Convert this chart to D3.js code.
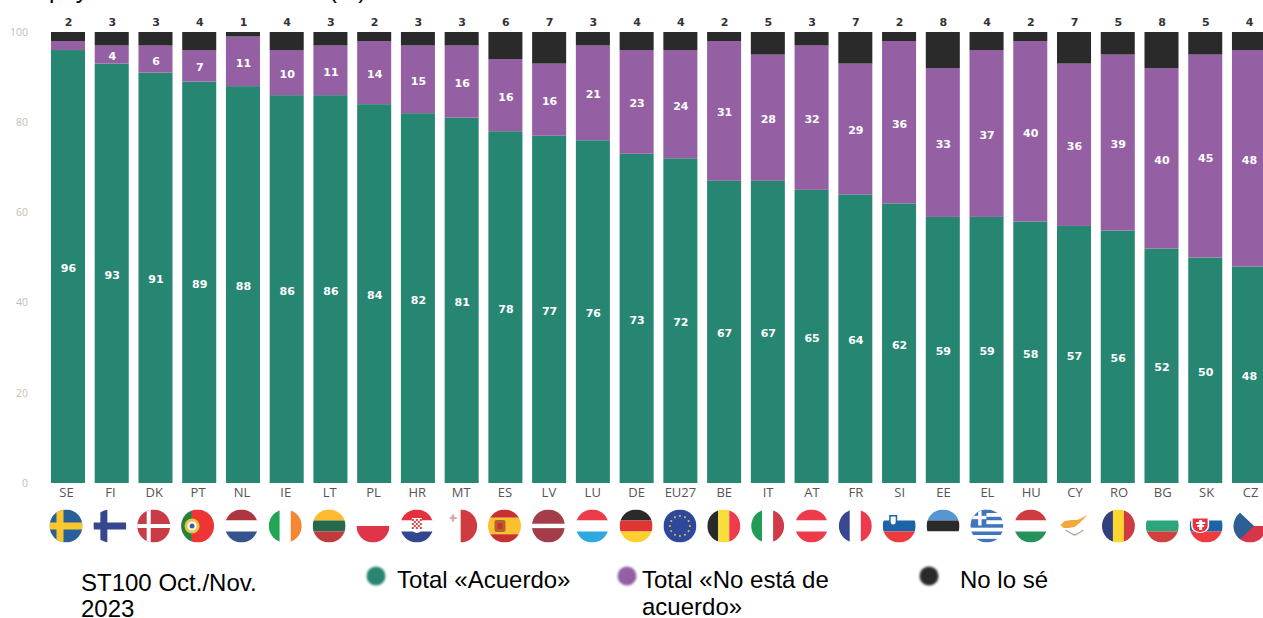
<!DOCTYPE html>
<html>
<head>
<meta charset="utf-8">
<title>ST100</title>
<style>
  html, body { margin: 0; padding: 0; background: #fff; overflow: hidden; }
  svg { display: block; }
</style>
</head>
<body>
<script src="https://cdn.jsdelivr.net/npm/d3@7"></script>
<script>
var countries = ['SE','FI','DK','PT','NL','IE','LT','PL','HR','MT','ES','LV','LU','DE','EU27','BE','IT','AT','FR','SI','EE','EL','HU','CY','RO','BG','SK','CZ'];
var agree = [96,93,91,89,88,86,86,84,82,81,78,77,76,73,72,67,67,65,64,62,59,59,58,57,56,52,50,48];
var disagree = [2,4,6,7,11,10,11,14,15,16,16,16,21,23,24,31,28,32,29,36,33,37,40,36,39,40,45,48];
var dontKnow = [2,3,3,4,1,4,3,2,3,3,6,7,3,4,4,2,5,3,7,2,8,4,2,7,5,8,5,4];
var yTicks = [0,20,40,60,80,100];

var seriesNames = ['agree','disagree','dontKnow'];
var seriesColors = ['#288671','#9560a3','#2b2b2b'];
var legendLabels = [['Total «Acuerdo»'], ['Total «No está de','acuerdo»'], ['No lo sé']];

// h = horizontal bands top to bottom, v = vertical bands left to right
var flags = {
  SE: {bg:'#2b6198', cross:['#fcc72e',-6,0,7]},
  FI: {bg:'#ffffff', cross:['#36478f',-6,0,7]},
  DK: {bg:'#c93a46', cross:['#ffffff',-5,0,4]},
  PT: {v:[['#2c7f3e',0.33],['#ee3535',0.67]], badge:'#e8c83f'},
  NL: {h:['#ad3640','#ffffff','#36528f']},
  IE: {v:[['#23a455',1],['#ffffff',1],['#f58634',1]]},
  LT: {h:['#fdbb30','#26694e','#c13b3e']},
  PL: {h:['#ffffff','#e0344a']},
  HR: {h:['#e3303c','#ffffff','#33478f'], badge:'#d94a4a'},
  MT: {v:[['#ffffff',1],['#cf3a41',1]]},
  ES: {h:[['#c8322f',1],['#fbc02d',2],['#c8322f',1]], badge:'#b5622e'},
  LV: {h:[['#a23d49',2],['#ffffff',0.6],['#a23d49',2]]},
  LU: {h:['#ee3b4c','#ffffff','#2ea8df']},
  DE: {h:['#2b2b2b','#e03436','#fdd02f']},
  EU27: {bg:'#2f4a9c', stars:'#e0c23c'},
  BE: {v:[['#2b2b2b',1],['#f8de3a',1],['#ee3b4c',1]]},
  IT: {v:[['#239c55',1],['#ffffff',1],['#cf3a48',1]]},
  AT: {h:['#ee3b4c','#ffffff','#ee3b4c']},
  FR: {v:[['#37468f',1],['#ffffff',1],['#ee3b4c',1]]},
  SI: {h:['#ffffff','#1f63a8','#ee3b3f'], badge:'#ffffff'},
  EE: {h:['#5596d3','#2b2b2b','#ffffff']},
  EL: {h:['#3f75bb','#ffffff','#3f75bb','#ffffff','#3f75bb','#ffffff','#3f75bb','#ffffff','#3f75bb'], canton:'#3f75bb'},
  HU: {h:['#cf3a40','#ffffff','#28915a']},
  CY: {bg:'#ffffff', island:'#f6a93b'},
  RO: {v:[['#333f7f',1],['#fdd52f',1],['#cf3a40',1]]},
  BG: {h:['#ffffff','#2aa57c','#d23f3c']},
  SK: {h:['#ffffff','#1f63a8','#ee3b3f'], badge:'#e8333c'},
  CZ: {h:['#ffffff','#d8354a'], wedge:'#2e5f94'}
};

var width = 1263, height = 618;
var svg = d3.select('body').append('svg').attr('width', width).attr('height', height)
  .style('font-family', '"Liberation Sans", Arial, sans-serif');

var defs = svg.append('defs');
defs.append('filter').attr('id', 'faint').append('feGaussianBlur').attr('stdDeviation', 0.4);
defs.append('filter').attr('id', 'soft').append('feGaussianBlur').attr('stdDeviation', 0.7);
defs.append('filter').attr('id', 'softer').append('feGaussianBlur').attr('stdDeviation', 1);

var x = d3.scaleBand().domain(countries).range([51 - 4.87, 51 - 4.87 + 43.74 * 28]).paddingInner(0.222).paddingOuter(0.111);
var y = d3.scaleLinear().domain([0, 100]).range([483, 32]);
// codes and flags sit on a slightly wider spacing than the bars
var xLabel = d3.scalePoint().domain(countries).range([66, 1250]);

// the top of the title is cut off in the source image, only this tail shows
svg.append('text').attr('x', 49).attr('y', -2).attr('font-size', 24).attr('fill', '#000')
  .text('pay');
svg.append('text').attr('x', 329).attr('y', -2).attr('font-size', 24).attr('fill', '#000')
  .text('(%)');

// y axis
var yAxis = d3.axisLeft(y).tickValues(yTicks).tickSize(0).tickPadding(0);
var yG = svg.append('g').attr('transform', 'translate(28,0)').call(yAxis);
yG.select('.domain').remove();
yG.selectAll('text').attr('fill', '#c9bdb3').attr('font-size', 10.5)
  .style('font-family', '"Open Sans", sans-serif');

// stacked bars
var rows = countries.map(function(c, i) {
  return {country: c, agree: agree[i], disagree: disagree[i], dontKnow: dontKnow[i]};
});
var stacked = d3.stack().keys(seriesNames)(rows);

var layers = svg.selectAll('g.layer').data(stacked).enter().append('g').attr('class', 'layer')
  .attr('fill', function(d, i) { return seriesColors[i]; });

layers.append('g').attr('filter', 'url(#faint)')
  .selectAll('rect').data(function(d) { return d; }).enter().append('rect')
  .attr('x', function(d) { return x(d.data.country); })
  .attr('width', x.bandwidth())
  .attr('y', function(d) { return y(d[1]); })
  .attr('height', function(d) { return y(d[0]) - y(d[1]); });

// white value labels, small segments have none
layers.filter(function(d, i) { return i < 2; }).selectAll('text')
  .data(function(d) { return d.filter(function(v) { return v[1] - v[0] > 2; }); })
  .enter().append('text')
  .attr('x', function(d) { return x(d.data.country) + x.bandwidth() / 2 + 0.5; })
  .attr('y', function(d) { return y((d[0] + d[1]) / 2) + 5.5; })
  .attr('text-anchor', 'middle')
  .attr('fill', '#fff')
  .attr('font-weight', 'bold')
  .attr('font-size', 11)
  .style('font-family', '"DejaVu Sans", sans-serif')
  .text(function(d) { return d[1] - d[0]; });

// black totals over the bars
svg.append('g').selectAll('text').data(rows).enter().append('text')
  .attr('x', function(d) { return x(d.country) + x.bandwidth() / 2 + 0.5; })
  .attr('y', 26)
  .attr('text-anchor', 'middle')
  .attr('fill', '#333')
  .attr('font-weight', 'bold')
  .attr('font-size', 11)
  .style('font-family', '"DejaVu Sans", sans-serif')
  .text(function(d) { return d.dontKnow; });

// country codes
var xAxis = d3.axisBottom(xLabel).tickSize(0).tickPadding(0);
var xG = svg.append('g').attr('transform', 'translate(0,486.5)').call(xAxis);
xG.select('.domain').remove();
xG.selectAll('text').attr('fill', '#555').attr('font-size', 13).attr('dy', '0.8em')
  .style('font-family', '"Open Sans", sans-serif');

// flags
var flagR = 16.5;
var flagG = svg.append('g').selectAll('g').data(countries).enter().append('g')
  .attr('transform', function(c) { return 'translate(' + xLabel(c) + ',526)'; })
  .attr('filter', 'url(#soft)');

flagG.each(function(c) {
  var f = flags[c];
  var g = d3.select(this);
  var id = 'clip-' + c;
  defs.append('clipPath').attr('id', id).append('circle').attr('r', flagR);
  var inner = g.append('g').attr('clip-path', 'url(#' + id + ')');
  var s = flagR * 2;

  if (f.bg) inner.append('rect').attr('x', -flagR).attr('y', -flagR).attr('width', s).attr('height', s).attr('fill', f.bg);

  function bands(list, horizontal) {
    var items = list.map(function(b) { return Array.isArray(b) ? b : [b, 1]; });
    var total = d3.sum(items, function(b) { return b[1]; });
    var pos = -flagR;
    items.forEach(function(b) {
      var len = s * b[1] / total;
      inner.append('rect')
        .attr('x', horizontal ? -flagR : pos)
        .attr('y', horizontal ? pos : -flagR)
        .attr('width', horizontal ? s : len)
        .attr('height', horizontal ? len : s)
        .attr('fill', b[0]);
      pos += len;
    });
  }
  if (f.h) bands(f.h, true);
  if (f.v) bands(f.v, false);

  if (f.cross) {
    var cr = f.cross;
    inner.append('rect').attr('x', cr[1] - cr[3] / 2).attr('y', -flagR).attr('width', cr[3]).attr('height', s).attr('fill', cr[0]);
    inner.append('rect').attr('x', -flagR).attr('y', cr[2] - cr[3] / 2).attr('width', s).attr('height', cr[3]).attr('fill', cr[0]);
  }
  if (c === 'PT') {
    inner.append('circle').attr('cx', -5.5).attr('r', 7.5).attr('fill', f.badge);
    inner.append('circle').attr('cx', -5.5).attr('r', 4.5).attr('fill', '#fff');
    inner.append('circle').attr('cx', -5.5).attr('r', 2.5).attr('fill', '#3c5ea8');
  }
  if (c === 'HR') {
    inner.append('path').attr('d', 'M-5,-8H5V2A5,5 0 0 1 -5,2Z').attr('fill', '#fff');
    d3.range(5).forEach(function(row) {
      d3.range(5).forEach(function(col) {
        if ((row + col) % 2 === 0) {
          inner.append('rect').attr('x', -5 + col * 2).attr('y', -7 + row * 2).attr('width', 2).attr('height', 2).attr('fill', f.badge);
        }
      });
    });
  }
  if (c === 'MT') {
    inner.append('path').attr('d', 'M-11,-9h2v-2.5h2.5v2.5h2.5v2h-2.5v2.5h-2.5v-2.5h-2z').attr('fill', '#d9a8ad');
  }
  if (c === 'ES') {
    inner.append('rect').attr('x', -10).attr('y', -6).attr('width', 11).attr('height', 12).attr('rx', 2).attr('fill', f.badge);
    inner.append('rect').attr('x', -7).attr('y', -3).attr('width', 5).attr('height', 6).attr('fill', '#c8322f');
  }
  if (c === 'EU27') {
    d3.range(12).forEach(function(i) {
      var a = i * Math.PI / 6;
      inner.append('circle').attr('cx', 10 * Math.cos(a)).attr('cy', 10 * Math.sin(a)).attr('r', 1).attr('fill', f.stars);
    });
  }
  if (c === 'SI') {
    inner.append('path').attr('d', 'M-10,-11H-2V-4A4,4.5 0 0 1 -10,-4Z').attr('fill', '#1f63a8');
    inner.append('path').attr('d', 'M-8.5,-9.5H-3.5V-4.5A2.5,3 0 0 1 -8.5,-4.5Z').attr('fill', '#fff');
  }
  if (c === 'EL') {
    inner.append('rect').attr('x', -flagR).attr('y', -flagR).attr('width', 16).attr('height', 16).attr('fill', f.canton);
    inner.append('rect').attr('x', -flagR).attr('y', -flagR + 6.3).attr('width', 16).attr('height', 3.4).attr('fill', '#fff');
    inner.append('rect').attr('x', -8.7).attr('y', -flagR).attr('width', 3.4).attr('height', 16).attr('fill', '#fff');
  }
  if (c === 'CY') {
    inner.append('path').attr('d', 'M-14,-1L-10,-5L-3,-6L3,-6L7,-8L13,-11L8,-6L5,-3L0,1L-6,2L-11,2Z').attr('fill', f.island);
    inner.append('path').attr('d', 'M-9,4Q-3,8 0,9Q3,8 9,4').attr('fill', 'none').attr('stroke', '#9cb58c').attr('stroke-width', 1.5);
  }
  if (c === 'SK') {
    inner.append('path').attr('d', 'M-15,-9H3V0A9,7 0 0 1 -15,0Z').attr('fill', '#fff');
    inner.append('path').attr('d', 'M-13.5,-7.5H1.5V0A7.5,6 0 0 1 -13.5,0Z').attr('fill', f.badge);
    inner.append('rect').attr('x', -7).attr('y', -6).attr('width', 3).attr('height', 10).attr('fill', '#fff');
    inner.append('rect').attr('x', -10).attr('y', -4).attr('width', 9).attr('height', 2).attr('fill', '#fff');
    inner.append('rect').attr('x', -9).attr('y', -1).attr('width', 7).attr('height', 2).attr('fill', '#fff');
  }
  if (c === 'CZ') {
    inner.append('path').attr('d', 'M-17,-20L4,0L-17,20Z').attr('fill', f.wedge);
  }
});

// legend
var note = svg.append('text').attr('font-size', 24).attr('fill', '#000');
note.append('tspan').attr('x', 81).attr('y', 591).text('ST100 Oct./Nov.');
note.append('tspan').attr('x', 81).attr('y', 617).text('2023');

var legendDotX = [376, 627, 929];
var legendTextX = [397, 642, 960];
var legend = svg.append('g').selectAll('g').data(legendLabels).enter().append('g');
legend.append('circle')
  .attr('cx', function(d, i) { return legendDotX[i]; })
  .attr('cy', 576)
  .attr('r', 9.5)
  .attr('filter', 'url(#softer)')
  .attr('fill', function(d, i) { return seriesColors[i]; });
legend.append('text')
  .attr('font-size', 24)
  .attr('fill', '#000')
  .each(function(lines, i) {
    d3.select(this).selectAll('tspan').data(lines).enter().append('tspan')
      .attr('x', legendTextX[i])
      .attr('y', function(d, j) { return 588 + j * 27; })
      .text(function(d) { return d; });
  });
</script>
</body>
</html>
